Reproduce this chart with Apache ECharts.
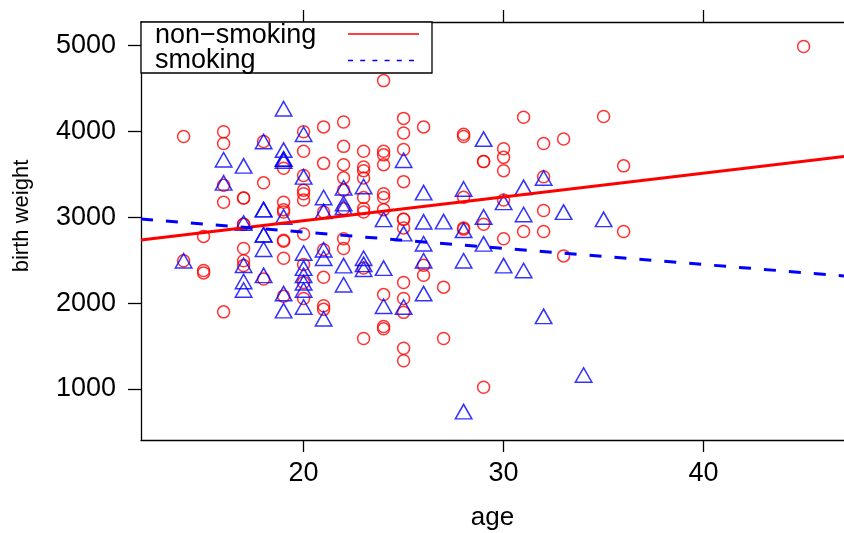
<!DOCTYPE html>
<html>
<head>
<meta charset="utf-8">
<script src="https://cdn.jsdelivr.net/npm/echarts@6/dist/echarts.min.js"></script>
<style>
  html, body { margin: 0; padding: 0; background: #fff; }
  #chart { width: 844px; height: 533px; }
</style>
</head>
<body>
<div id="chart"></div>
<script>
// Birth weight (g) against mother's age (years), split by smoking status.
// Each entry: [age, birth weight]
const nonSmoking = [
  [19,2523],[33,2551],[21,2622],[22,2637],[17,2637],[19,2722],[19,2733],[22,2751],
  [30,2750],[15,2778],[20,2807],[32,2835],[31,2835],[36,2836],[28,2863],[25,2877],
  [28,2877],[29,2920],[17,2920],[17,2920],[25,2977],[25,2977],[19,3062],[23,3062],
  [21,3062],[32,3080],[19,3090],[24,3090],[22,3100],[23,3104],[19,3175],[16,3175],
  [30,3203],[20,3203],[17,3225],[17,3225],[23,3232],[24,3232],[28,3234],[20,3274],
  [24,3274],[20,3317],[22,3317],[16,3374],[18,3402],[25,3416],[23,3459],[22,3460],
  [32,3473],[30,3544],[20,3487],[23,3544],[19,3572],[23,3586],[36,3600],[22,3614],
  [24,3614],[21,3629],[29,3651],[29,3651],[30,3699],[24,3728],[24,3770],[23,3770],
  [20,3770],[25,3790],[30,3799],[22,3827],[16,3860],[32,3860],[18,3884],[33,3912],
  [28,3941],[14,3941],[28,3969],[25,3983],[16,3997],[20,3997],[26,4054],[21,4054],
  [22,4111],[25,4153],[31,4167],[35,4174],[24,4593],[45,4990],
  [29,1021],[25,1330],[25,1474],[27,1588],[23,1588],[24,1701],[24,1729],[25,1893],
  [16,1899],[21,1928],[21,1970],[20,2055],[25,2055],[19,2082],[24,2100],[27,2187],
  [25,2240],[20,2240],[18,2282],[21,2301],[26,2325],[15,2353],[15,2381],[23,2410],
  [17,2438],[26,2442],[20,2450],[14,2495],[17,2495]
];
const smoking = [
  [20,2557],[21,2594],[18,2600],[29,2663],[26,2665],[18,2769],[18,2769],[25,2782],
  [28,2821],[17,2906],[26,2920],[24,2948],[35,2948],[29,2977],[19,2977],[27,2922],
  [31,3005],[33,3033],[21,3042],[18,3062],[18,3062],[22,3090],[22,3132],[30,3147],
  [21,3203],[26,3260],[28,3303],[22,3317],[31,3321],[23,3331],[16,3374],[32,3430],
  [20,3444],[17,3572],[19,3629],[25,3637],[16,3643],[19,3651],[19,3651],[19,3756],
  [18,3856],[29,3884],[20,3940],[19,4238],
  [28,709],[34,1135],[21,1790],[32,1818],[19,1885],[25,1928],[20,1928],[24,1936],
  [19,2084],[26,2084],[17,2125],[20,2126],[22,2187],[20,2211],[17,2225],
  [18,2296],[20,2296],[31,2353],[23,2367],[20,2381],[24,2381],[30,2410],[22,2410],
  [17,2414],[23,2424],[26,2466],[14,2466],[28,2466],[23,2495],[21,2495]
];
// Least-squares lines, endpoints at the edges of the age range shown
const fitNonSmoking = [[11.87, 2735], [47.02, 3710]];
const fitSmoking = [[11.87, 2981], [47.02, 2318]];

const ageTicks = [20, 30, 40];
const weightTicks = [1000, 2000, 3000, 4000, 5000];
const legendLabels = ['non\u2212smoking', 'smoking'];

const FONT = '"Liberation Sans", Arial, Helvetica, sans-serif';
const RED = '#ff0000';
const BLUE = '#0000ff';

const chart = echarts.init(document.getElementById('chart'), null, { renderer: 'canvas' });

const axisLine = { show: true, onZero: false, lineStyle: { color: '#000', width: 1.3 } };
const tickStyle = { color: '#000', width: 1.3 };
const plain = v => String(v);

chart.setOption({
  animation: false,
  backgroundColor: '#fff',
  grid: { left: 141, right: 0, top: 22, bottom: 93 },
  xAxis: [
    {
      type: 'value', position: 'bottom', min: 11.87, max: 47.02,
      axisLine: axisLine,
      axisTick: { show: true, length: 12, lineStyle: tickStyle, customValues: ageTicks },
      axisLabel: { customValues: ageTicks, formatter: plain, color: '#000', fontSize: 27, fontFamily: FONT, margin: 20 },
      splitLine: { show: false }
    },
    {
      type: 'value', position: 'top', min: 11.87, max: 47.02,
      axisLine: axisLine,
      axisTick: { show: true, length: 12, lineStyle: tickStyle, customValues: ageTicks },
      axisLabel: { show: false },
      splitLine: { show: false }
    }
  ],
  yAxis: [{
    type: 'value', min: 406, max: 5276,
    axisLine: axisLine,
    axisTick: { show: true, length: 13, lineStyle: tickStyle, customValues: weightTicks },
    axisLabel: { customValues: weightTicks, formatter: plain, color: '#000', fontSize: 27, fontFamily: FONT, margin: 25 },
    splitLine: { show: false }
  }],
  series: [
    {
      name: legendLabels[0], type: 'scatter', data: nonSmoking,
      symbol: 'circle', symbolSize: 12, silent: true,
      itemStyle: { color: 'rgba(0,0,0,0)', borderColor: RED, borderWidth: 1.5 }
    },
    {
      name: legendLabels[1], type: 'scatter', data: smoking,
      symbol: 'triangle', symbolSize: [16.5, 14.5], symbolOffset: [0, -2.4], silent: true,
      itemStyle: { color: 'rgba(0,0,0,0)', borderColor: BLUE, borderWidth: 1.5 }
    },
    {
      type: 'line', data: fitNonSmoking, showSymbol: false, silent: true,
      lineStyle: { color: RED, width: 3, type: 'solid' }
    },
    {
      type: 'line', data: fitSmoking, showSymbol: false, silent: true,
      lineStyle: { color: BLUE, width: 3, type: [12, 13] }
    }
  ],
  graphic: [
    // legend box
    {
      type: 'rect', z: 100, shape: { x: 141, y: 22, width: 291, height: 51 },
      style: { fill: '#fff', stroke: '#000', lineWidth: 1.3 }
    },
    {
      type: 'text', z: 101, x: 155, y: 36,
      style: { text: legendLabels[0], fill: '#000', font: '27px ' + FONT, verticalAlign: 'middle' }
    },
    {
      type: 'text', z: 101, x: 155, y: 61,
      style: { text: legendLabels[1], fill: '#000', font: '27px ' + FONT, verticalAlign: 'middle' }
    },
    {
      type: 'line', z: 101, shape: { x1: 348, y1: 34, x2: 419, y2: 34 },
      style: { stroke: RED, lineWidth: 1.3 }
    },
    {
      type: 'line', z: 101, shape: { x1: 348, y1: 60.5, x2: 419, y2: 60.5 },
      style: { stroke: BLUE, lineWidth: 1.3, lineDash: [5, 7.2] }
    },
    // axis titles
    {
      type: 'text', x: 492.5, y: 518,
      style: { text: 'age', fill: '#000', font: '26px ' + FONT, align: 'center', verticalAlign: 'middle' }
    },
    {
      type: 'text', x: 22, y: 216, rotation: Math.PI / 2,
      style: { text: 'birth weight', fill: '#000', font: '22px ' + FONT, align: 'center', verticalAlign: 'middle' }
    }
  ]
});
</script>
</body>
</html>
